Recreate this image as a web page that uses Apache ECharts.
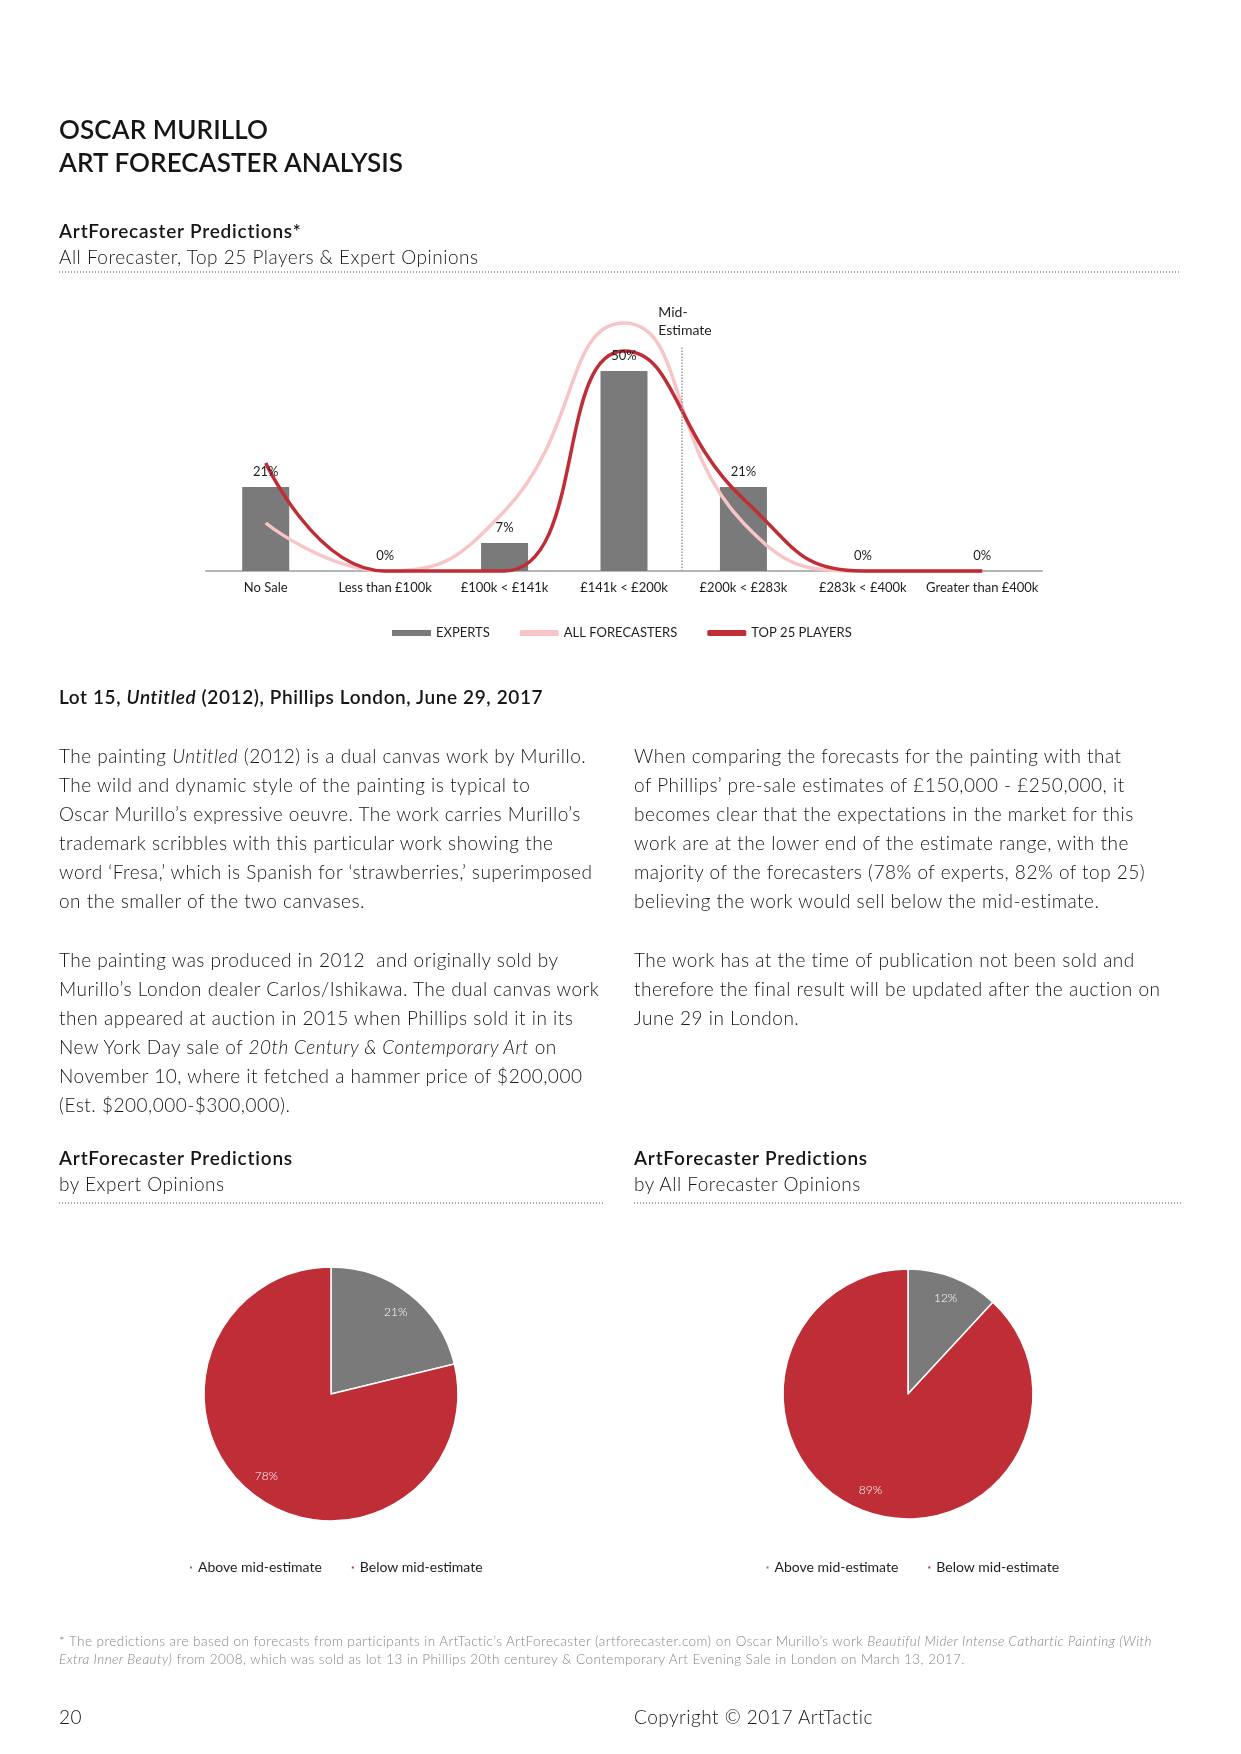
<!DOCTYPE html>
<html>
<head>
<meta charset="utf-8">
<script src="https://cdn.jsdelivr.net/npm/echarts@6/dist/echarts.min.js"></script>
<style>
  html, body { margin:0; padding:0; background:#fff; }
  body { width:1241px; height:1754px; position:relative; overflow:hidden;
         font-family: Lato, "Open Sans", "Noto Sans", sans-serif; color:#161616; }
  #chart { position:absolute; left:0; top:0; width:1241px; height:1754px; z-index:0; }
  .t { position:absolute; white-space:nowrap; z-index:1; }
  .title { left:59px; top:113px; font-size:26px; line-height:32.5px; font-weight:600; letter-spacing:0.1px; }
  .h { font-size:19px; line-height:25.5px; }
  .h b { font-weight:600; letter-spacing:0.8px; }
  .h span { font-weight:300; letter-spacing:0.5px; }
  .body { font-size:19px; line-height:29.1px; font-weight:300; letter-spacing:0.5px; }
  .dots { position:absolute; height:2px; z-index:1;
          background-image: linear-gradient(to right, #a5a5a5 50%, rgba(255,255,255,0) 50%);
          background-size: 3px 2px; background-repeat: repeat-x; }
  .foot { font-size:13.5px; line-height:18px; font-weight:300; color:#858585; letter-spacing:0.45px; }
</style>
</head>
<body>
<div id="chart"></div>

<div class="t title">OSCAR MURILLO<br>ART FORECASTER ANALYSIS</div>

<div class="t h" style="left:59px; top:218px;"><b>ArtForecaster Predictions*</b><br><span>All Forecaster, Top 25 Players &amp; Expert Opinions</span></div>
<div class="dots" style="left:59px; top:271px; width:1122px;"></div>

<div class="t h" style="left:59px; top:684px;"><b style="letter-spacing:0.6px">Lot 15, <i>Untitled</i> (2012), Phillips London, June 29, 2017</b></div>

<div class="t body" style="left:59px; top:741px;">The painting <i>Untitled</i> (2012) is a dual canvas work by Murillo.<br>The wild and dynamic style of the painting is typical to<br>Oscar Murillo’s expressive oeuvre. The work carries Murillo’s<br>trademark scribbles with this particular work showing the<br>word ‘Fresa,’ which is Spanish for ‘strawberries,’ superimposed<br>on the smaller of the two canvases.<br><br>The painting was produced in 2012&nbsp; and originally sold by<br>Murillo’s London dealer Carlos/Ishikawa. The dual canvas work<br>then appeared at auction in 2015 when Phillips sold it in its<br>New York Day sale of <i>20th Century &amp; Contemporary Art</i> on<br>November 10, where it fetched a hammer price of $200,000<br>(Est. $200,000-$300,000).</div>

<div class="t body" style="left:634px; top:741px;">When comparing the forecasts for the painting with that<br>of Phillips’ pre-sale estimates of £150,000 - £250,000, it<br>becomes clear that the expectations in the market for this<br>work are at the lower end of the estimate range, with the<br>majority of the forecasters (78% of experts, 82% of top 25)<br>believing the work would sell below the mid-estimate.<br><br>The work has at the time of publication not been sold and<br>therefore the final result will be updated after the auction on<br>June 29 in London.</div>

<div class="t h" style="left:59px; top:1145px;"><b>ArtForecaster Predictions</b><br><span>by Expert Opinions</span></div>
<div class="dots" style="left:59px; top:1202px; width:546px;"></div>
<div class="t h" style="left:634px; top:1145px;"><b>ArtForecaster Predictions</b><br><span>by All Forecaster Opinions</span></div>
<div class="dots" style="left:634px; top:1202px; width:547px;"></div>

<div class="t foot" style="left:59px; top:1632px;">* The predictions are based on forecasts from participants in ArtTactic’s ArtForecaster (artforecaster.com) on Oscar Murillo’s work <i>Beautiful Mider Intense Cathartic Painting (With</i><br><i>Extra Inner Beauty)</i> from 2008, which was sold as lot 13 in Phillips 20th centurey &amp; Contemporary Art Evening Sale in London on March 13, 2017.</div>

<div class="t body" style="left:59px; top:1702px;">20</div>
<div class="t body" style="left:634px; top:1702px;">Copyright © 2017 ArtTactic</div>

<script>
// ---- data ----
const categories = ['No Sale', 'Less than £100k', '£100k < £141k', '£141k < £200k', '£200k < £283k', '£283k < £400k', 'Greater than £400k'];
const expertsPct = [21, 0, 7, 50, 21, 0, 0];
const allForecastersPct = [12, 0, 15, 62, 12, 0, 0];
const top25PlayersPct = [27, 0, 0, 55, 18, 0, 0];
const midEstimatePos = 3.48;        // category position of the £200k mid-estimate
const midEstimateTopPct = 56;
const seriesNames = ['EXPERTS', 'ALL FORECASTERS', 'TOP 25 PLAYERS'];

const pieNames = ['Above mid-estimate', 'Below mid-estimate'];
const expertPie = [21, 78];
const allForecasterPie = [12, 89];

// ---- styles ----
const GRAY = '#7a7a7a', RED = '#bf2d36', PINK = '#f7c5c8', TXT = '#1e1e1e';
const FONT = 'Lato, "Open Sans", sans-serif';

function pieSeries(center, r, values) {
  const data = pieNames.map((n, i) => ({ name: n, value: values[i] }));
  return [
    {
      type: 'pie', center: center, radius: [0, r], startAngle: 90, clockwise: true,
      data: data, label: { show: false }, labelLine: { show: false },
      itemStyle: { borderColor: '#fff', borderWidth: 1.5 },
      emphasis: { disabled: true }, animation: false
    },
    {
      type: 'pie', center: center, radius: [r * 0.6, r], startAngle: 90, clockwise: true,
      data: data, silent: true, legendHoverLink: false,
      itemStyle: { color: 'rgba(0,0,0,0)' },
      label: { show: true, position: 'inside', formatter: '{c}%', color: '#fff',
               fontSize: 12, fontWeight: 300, fontFamily: FONT },
      labelLine: { show: false }, emphasis: { disabled: true }, animation: false
    }
  ];
}

const chart = echarts.init(document.getElementById('chart'), null, { renderer: 'canvas' });
chart.setOption({
  animation: false,
  color: [GRAY, RED],
  textStyle: { fontFamily: FONT },
  grid: [{ left: 206, top: 291, width: 836, height: 280 }],
  xAxis: [
    {
      type: 'category', data: categories, gridIndex: 0,
      axisLine: { lineStyle: { color: '#b5b5b5', width: 2 } },
      axisTick: { show: false },
      axisLabel: { color: TXT, fontSize: 13, margin: 10, interval: 0, fontFamily: FONT }
    },
    { type: 'value', gridIndex: 0, min: -0.5, max: categories.length - 0.5, show: false }
  ],
  yAxis: [{ type: 'value', gridIndex: 0, min: 0, max: 70, show: false, splitLine: { show: false } }],
  legend: [
    {
      left: 392, top: 626.5, padding: 0, itemWidth: 39, itemHeight: 6, itemGap: 30,
      textStyle: { color: TXT, fontSize: 13, fontFamily: FONT },
      data: [
        { name: seriesNames[0], icon: 'rect' },
        { name: seriesNames[1], icon: 'roundRect' },
        { name: seriesNames[2], icon: 'roundRect' }
      ]
    },
    {
      left: 188, top: 1560.5, padding: 0, itemWidth: 4, itemHeight: 4, itemGap: 28, icon: 'rect',
      textStyle: { color: TXT, fontSize: 14, fontFamily: FONT, padding: [9, 0, 0, 0] },
      data: pieNames
    },
    {
      left: 764.5, top: 1560.5, padding: 0, itemWidth: 4, itemHeight: 4, itemGap: 28, icon: 'rect',
      textStyle: { color: TXT, fontSize: 14, fontFamily: FONT, padding: [9, 0, 0, 0] },
      data: pieNames
    }
  ],
  series: [
    {
      name: seriesNames[0], type: 'bar', data: expertsPct, barWidth: 47,
      itemStyle: { color: GRAY }, z: 2
    },
    {
      name: seriesNames[1], type: 'line', data: allForecastersPct, smooth: 0.5,
      symbol: 'none', clip: false, lineStyle: { color: PINK, width: 3.5 },
      itemStyle: { color: PINK }, z: 3
    },
    {
      name: seriesNames[2], type: 'line', data: top25PlayersPct, smooth: 0.5,
      symbol: 'none', clip: false, lineStyle: { color: RED, width: 3.5 },
      itemStyle: { color: RED }, z: 4
    },
    {
      // value labels of the expert bars, drawn above the lines
      type: 'bar', data: expertsPct, barWidth: 47, barGap: '-100%', silent: true,
      itemStyle: { color: 'rgba(0,0,0,0)' },
      label: { show: true, position: 'top', distance: 9, formatter: '{c}%', color: TXT,
               fontSize: 13, fontFamily: FONT },
      z: 6
    },
    {
      type: 'line', xAxisIndex: 1, yAxisIndex: 0, data: [], silent: true,
      markLine: {
        silent: true, symbol: ['none', 'none'], animation: false,
        lineStyle: { color: '#9a9a9a', type: 'dotted', width: 1.5 },
        label: { show: true, position: 'end', formatter: 'Mid-\nEstimate', align: 'left',
                 offset: [-23, 0], distance: 8, color: TXT, fontSize: 14, lineHeight: 18,
                 fontFamily: FONT },
        data: [[{ coord: [midEstimatePos, 0] }, { coord: [midEstimatePos, midEstimateTopPct] }]]
      }
    },
    ...pieSeries([331, 1394], 127, expertPie),
    ...pieSeries([908, 1394], 125, allForecasterPie)
  ]
});
</script>
</body>
</html>
